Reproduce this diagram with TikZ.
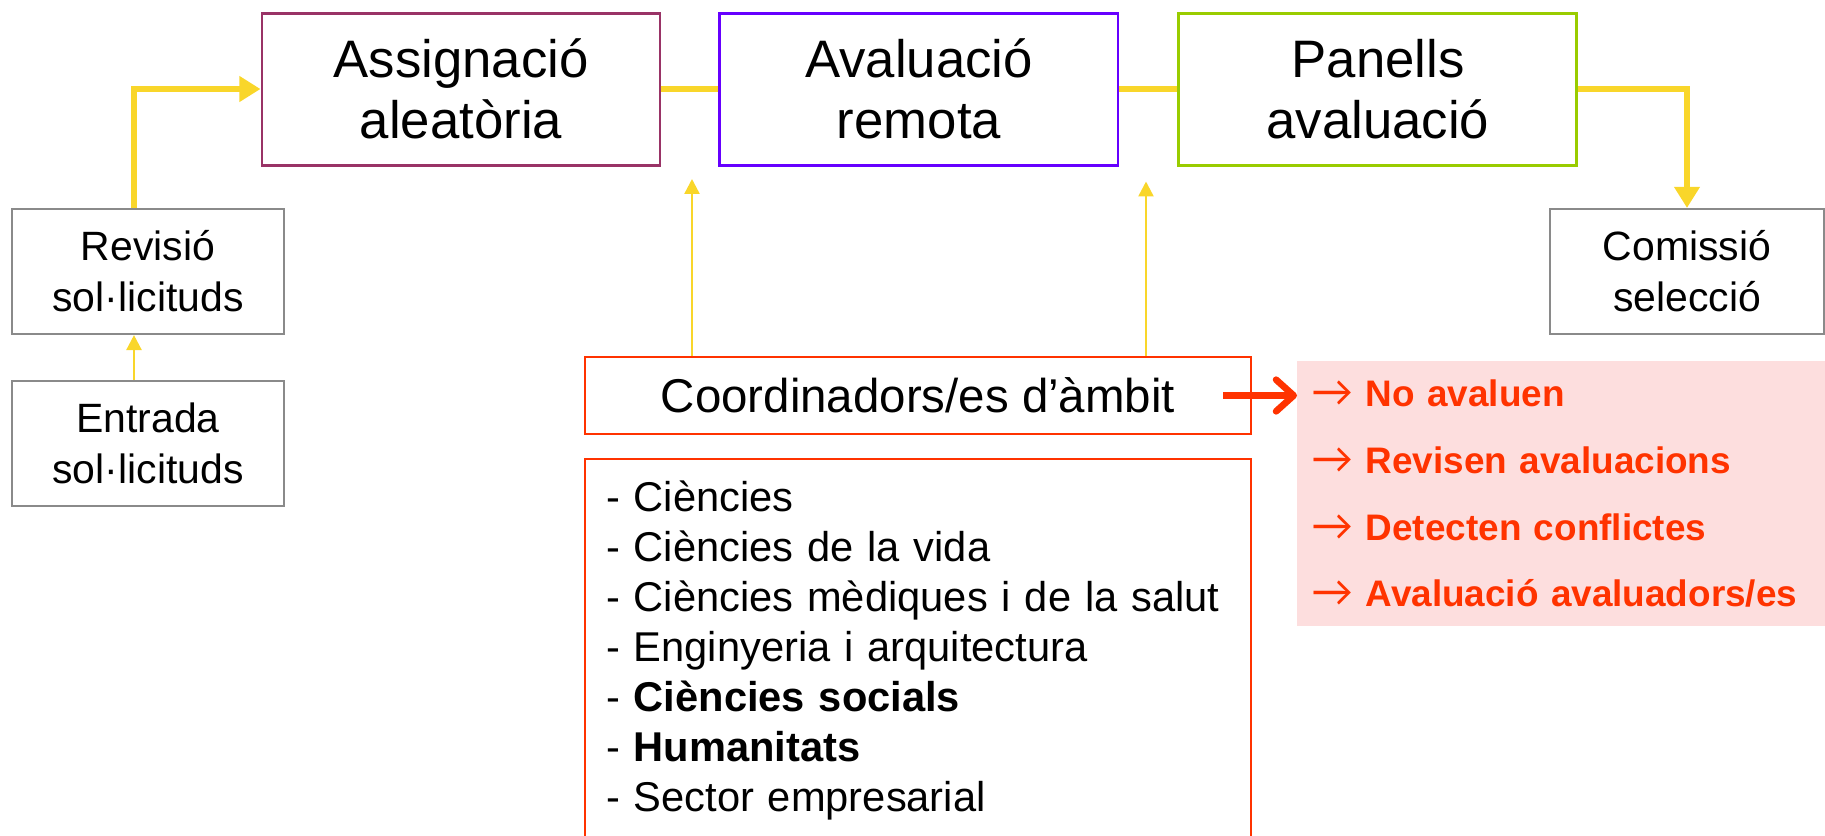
\documentclass[tikz,border=0pt]{standalone}
\usepackage{fontspec}
\setmainfont{Liberation Sans}
\newfontfamily\arrowfont{Lato}
\usetikzlibrary{positioning,arrows.meta}
\definecolor{flowyellow}{HTML}{F9D62A}
\definecolor{boxmaroon}{HTML}{993366}
\definecolor{boxviolet}{HTML}{6600FF}
\definecolor{boxgreen}{HTML}{99CC00}
\definecolor{boxgrey}{HTML}{8A8A8A}
\definecolor{coordred}{HTML}{FF3300}
\definecolor{notepink}{HTML}{FDDEDE}
\newcommand{\notearrow}{{\arrowfont\mdseries\fontsize{24}{24}\selectfont →} }

\tikzset{
  mainbox/.style={draw, line width=1.7pt, minimum width=7.96cm, minimum height=3.04cm,
    align=center, font=\fontsize{30}{34.5}\selectfont},
  greybox/.style={draw=boxgrey, line width=1.2pt, minimum width=5.44cm, minimum height=2.5cm,
    align=center, font=\fontsize{23.3}{29}\selectfont},
  flow/.style={flowyellow, line width=3.4pt, -{Triangle[length=12pt,width=14pt]}},
  feed/.style={flowyellow, line width=1.4pt, -{Triangle[length=8.5pt,width=8.5pt]}},
}

\begin{document}
\begin{tikzpicture}
    \useasboundingbox (0,0) rectangle (36.5,-16.7);
    \clip (0,0) rectangle (36.5,-16.7);
    \node[mainbox, draw=boxmaroon] (a1) at (9.22,-1.78) {Assignació\\aleatòria};
    \node[mainbox, draw=boxviolet, right=1.14cm of a1] (a2) {Avaluació\\remota};
    \node[mainbox, draw=boxgreen, right=1.16cm of a2] (a3) {Panells\\avaluació};
    \node[greybox] (r1) at (2.96,-5.43) {Revisió\\sol·licituds};
    \node[greybox, below=0.9cm of r1] (e1) {Entrada\\sol·licituds};
    \node[greybox, minimum width=5.48cm] (c1) at (33.74,-5.43) {Comissió\\selecció};
    \node[draw=coordred, line width=1.2pt, minimum width=13.32cm, minimum height=1.54cm,
      font=\fontsize{27}{32}\selectfont] (k1) at (18.36,-7.91) {Coordinadors/es d’àmbit};
    \node[draw=coordred, line width=1.2pt, below=0.46cm of k1, text width=12.48cm,
      inner xsep=0.42cm, inner ysep=0.36cm, align=left,
      font=\fontsize{23.7}{28.5}\selectfont] (l1)
      {\rule{0pt}{19.4pt}- Ciències\\
       - Ciències de la vida\\
       - Ciències mèdiques i de la salut\\
       - Enginyeria i arquitectura\\
       - \textbf{Ciències socials}\\
       - \textbf{Humanitats}\\
       - Sector empresarial\rule[-3cm]{0pt}{0pt}};
    \node[fill=notepink, anchor=north west, text width=11cm, inner xsep=0.28cm, inner ysep=0.37cm,
      align=left, text=coordred, font=\bfseries\fontsize{21}{38}\selectfont] (n1) at (25.94,-7.22)
      {\notearrow No avaluen\\
       \notearrow Revisen avaluacions\\
       \notearrow Detecten conflictes\\
       \notearrow Avaluació avaluadors/es};
    \coordinate (t1) at ([xshift=-4.52cm]k1.north);
    \coordinate (t2) at ([xshift=4.56cm]k1.north);
    \coordinate (t3) at ([xshift=-0.28cm]r1.north);
    \draw[flow] (t3) |- (a1.west);
    \draw[feed] (t3 |- e1.north) -- (t3 |- r1.south);
    \draw[flow, -] (a1) -- (a2);
    \draw[flow, -] (a2) -- (a3);
    \draw[flow] (a3.east) -| (c1.north);
    \draw[feed, shorten >=0.25cm] (t1) -- (t1 |- a1.south);
    \draw[feed, shorten >=0.3cm] (t2) -- (t2 |- a1.south);
    \draw[coordred, line width=3.8pt, -{Straight Barb[round,length=10pt,width=18pt]}]
      ([xshift=-0.58cm]k1.east) -- (k1.east -| n1.west);
\end{tikzpicture}
\end{document}
